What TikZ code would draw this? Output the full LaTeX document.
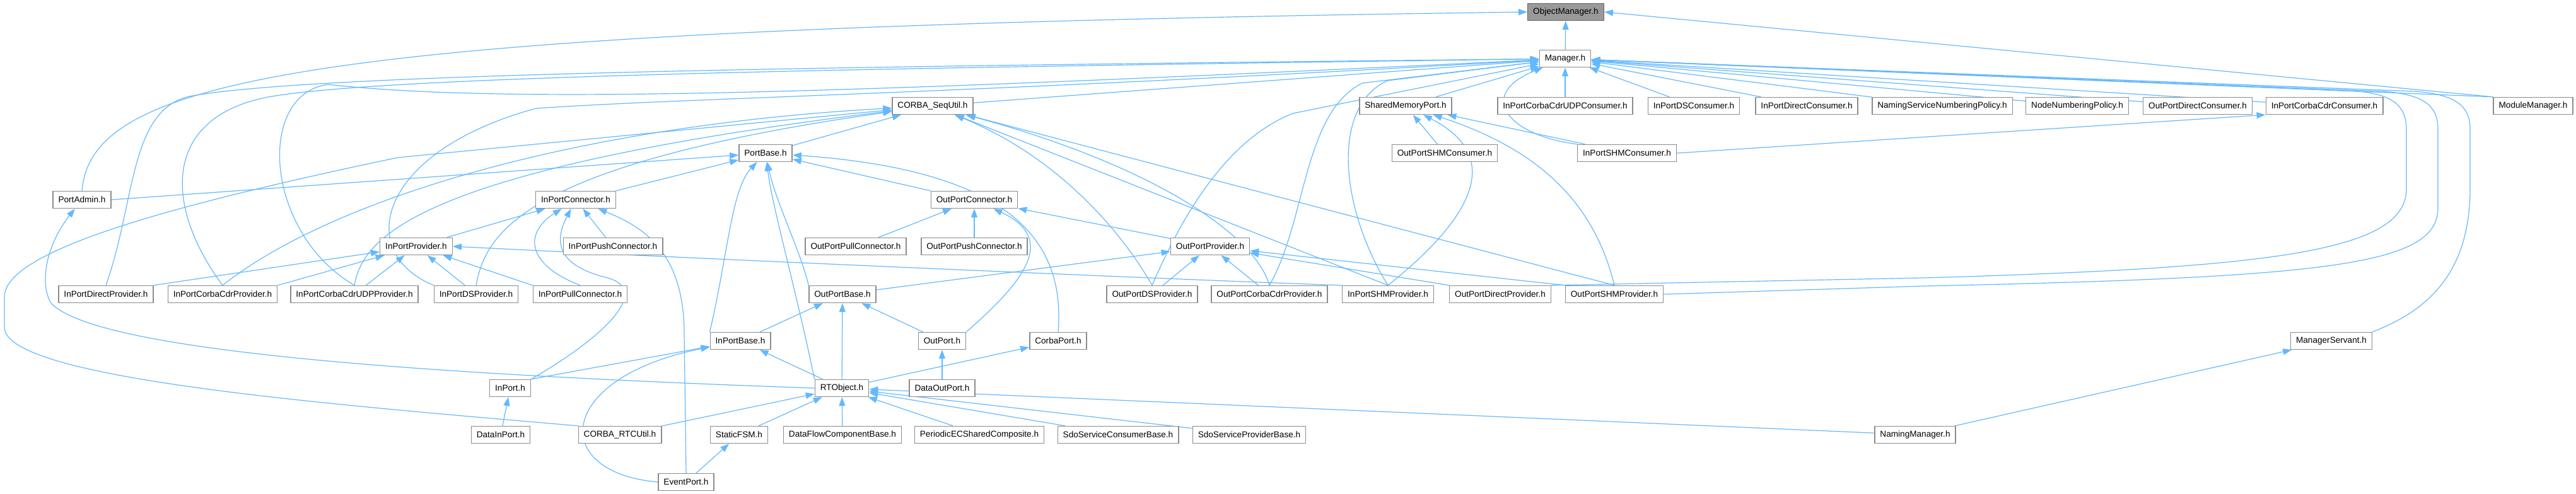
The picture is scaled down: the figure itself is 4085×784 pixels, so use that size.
\documentclass[tikz,border=0pt]{standalone}
\usepackage{fontspec}
\setmainfont{Liberation Sans}
\usetikzlibrary{arrows.meta}
\definecolor{edgeblue}{HTML}{63B8FF}
\definecolor{boxgray}{HTML}{8C8C8C}
\definecolor{objgray}{HTML}{999999}
\pgfdeclarelayer{bg}
\pgfsetlayers{bg,main}
\begin{document}
\begin{tikzpicture}[x=1pt, y=-1pt,
  every node/.style={rectangle, draw=boxgray, fill=white, line width=1.4pt, inner xsep=8.5pt, inner ysep=0pt, minimum height=27pt, font=\fontsize{13.6}{15}\selectfont},
  dep/.style={draw=edgeblue, line width=1.2pt, -{Triangle[length=14pt,width=10pt]}}]
  \useasboundingbox (0,0) rectangle (4085,784);
  % header files, placed row by row
  \node (objmgr) at (2483,19) [fill=objgray, draw=black!60] {ObjectManager.h};
  \node (mgr) at (2482,93) {Manager.h};
  \node (seq) at (1479,168) {CORBA\_SeqUtil.h};
  \node (shm) at (2229,168) {SharedMemoryPort.h};
  \node (udpcons) at (2482,168) {InPortCorbaCdrUDPConsumer.h};
  \node (dscons) at (2686,168) {InPortDSConsumer.h};
  \node (dircons) at (2865,168) {InPortDirectConsumer.h};
  \node (nsnp) at (3080,168) {NamingServiceNumberingPolicy.h};
  \node (nnp) at (3294,168) {NodeNumberingPolicy.h};
  \node (opdircons) at (3485,168) {OutPortDirectConsumer.h};
  \node (cdrcons) at (3686,168) {InPortCorbaCdrConsumer.h};
  \node (modmgr) at (4017,168) {ModuleManager.h};
  \node (portbase) at (1214,243) {PortBase.h};
  \node (oshmcons) at (2291,243) {OutPortSHMConsumer.h};
  \node (ishmcons) at (2580,243) {InPortSHMConsumer.h};
  \node (portadmin) at (130,317) {PortAdmin.h};
  \node (ipconn) at (913,317) {InPortConnector.h};
  \node (opconn) at (1545,317) {OutPortConnector.h};
  \node (ipprov) at (660,391) {InPortProvider.h};
  \node (ippush) at (972,391) {InPortPushConnector.h};
  \node (oppull) at (1357,391) {OutPortPullConnector.h};
  \node (oppush) at (1545,391) {OutPortPushConnector.h};
  \node (opprov) at (1919,391) {OutPortProvider.h};
  \node (ipdirprov) at (168,467) {InPortDirectProvider.h};
  \node (ipcdrprov) at (353,467) {InPortCorbaCdrProvider.h};
  \node (ipudpprov) at (562,467) {InPortCorbaCdrUDPProvider.h};
  \node (ipdsprov) at (755,467) {InPortDSProvider.h};
  \node (ippull) at (920,467) {InPortPullConnector.h};
  \node (opbase) at (1336,467) {OutPortBase.h};
  \node (opdsprov) at (1827,467) {OutPortDSProvider.h};
  \node (opcdrprov) at (2013,467) {OutPortCorbaCdrProvider.h};
  \node (ipshmprov) at (2201,467) {InPortSHMProvider.h};
  \node (opdirprov) at (2379,467) {OutPortDirectProvider.h};
  \node (opshmprov) at (2560,467) {OutPortSHMProvider.h};
  \node (ipbase) at (1174,541) {InPortBase.h};
  \node (outport) at (1494,541) {OutPort.h};
  \node (corbaport) at (1678,541) {CorbaPort.h};
  \node (mgrservant) at (3697,541) {ManagerServant.h};
  \node (inport) at (809,616) {InPort.h};
  \node (rtobj) at (1335,616) {RTObject.h};
  \node (dataout) at (1494,616) {DataOutPort.h};
  \node (datain) at (794,690) {DataInPort.h};
  \node (rtcutil) at (983,690) {CORBA\_RTCUtil.h};
  \node (staticfsm) at (1172,690) {StaticFSM.h};
  \node (dfcb) at (1336,690) {DataFlowComponentBase.h};
  \node (pecsc) at (1553,690) {PeriodicECSharedComposite.h};
  \node (sdocons) at (1773,690) {SdoServiceConsumerBase.h};
  \node (sdoprov) at (1981,690) {SdoServiceProviderBase.h};
  \node (namingmgr) at (3037,690) {NamingManager.h};
  \node (eventport) at (1088,765) {EventPort.h};

  % include edges, arrow points at the included file
  \begin{pgfonlayer}{bg}
  \draw[dep] (mgr) -- (objmgr);
  \draw[dep] (portadmin.north) .. controls (145,120) and (500,45) .. (objmgr.west);
  \draw[dep] (modmgr.north west) -- (objmgr.east);
  \draw[dep] (modmgr.north west) -- (mgr);
  \draw[dep] (shm) -- (mgr);
  \draw[dep] (udpcons) -- (mgr);
  \draw[dep] (dscons) -- (mgr);
  \draw[dep] (dircons) -- (mgr);
  \draw[dep] (nsnp) -- (mgr);
  \draw[dep] (nnp) -- (mgr);
  \draw[dep] (opdircons) -- (mgr);
  \draw[dep] (cdrcons) -- (mgr);
  \draw[dep] (seq) -- (mgr);
  \draw[dep] (ishmcons.north west) .. controls (2390,215) and (2340,150) .. (mgr);
  \draw[dep] (mgrservant.north east) .. controls (3830,500) and (3917,450) .. (3917,300) -- (3917,205) .. controls (3917,165) and (3890,150) .. (3830,145) -- (mgr);
  \draw[dep] (opshmprov.east) -- (3050,454) .. controls (3700,440) and (3866,420) .. (3866,330) -- (3866,205) .. controls (3866,165) and (3840,150) .. (3780,145) -- (mgr);
  \draw[dep] (opdirprov.north east) -- (3050,441) .. controls (3600,425) and (3816,400) .. (3816,300) -- (3816,205) .. controls (3816,165) and (3790,150) .. (3740,145) -- (mgr);
  \draw[dep] (opcdrprov.north) .. controls (2072,350) and (2066,180) .. (2160,132) -- (mgr);
  \draw[dep] (ipshmprov.north) .. controls (2125,330) and (2110,170) .. (2200,128) -- (mgr);
  \draw[dep] (opdsprov.north) .. controls (1880,330) and (1950,220) .. (2050,180) -- (mgr);
  \draw[dep] (ipdirprov.north) .. controls (215,320) and (205,175) .. (300,153) .. controls (500,115) and (1400,105) .. (mgr);
  \draw[dep] (ipcdrprov.north) .. controls (262,330) and (255,190) .. (420,155) .. controls (600,120) and (1400,108) .. (mgr);
  \draw[dep] (ipudpprov.north) .. controls (420,370) and (405,150) .. (520,134) .. controls (800,165) and (1300,150) .. (mgr);
  \draw[dep] (ipdsprov.north west) .. controls (560,400) and (600,240) .. (850,172) .. controls (1100,155) and (1500,150) .. (mgr);

  \draw[dep] (portbase) -- (seq);
  \draw[dep] (rtcutil.north west) .. controls (500,640) and (10,600) .. (7,520) -- (7,470) .. controls (10,400) and (250,330) .. (631,250) -- (seq);
  \draw[dep] (ipcdrprov.north) .. controls (520,320) and (900,200) .. (seq);
  \draw[dep] (ipudpprov.north) .. controls (575,380) and (650,270) .. (seq);
  \draw[dep] (ipdsprov.north) .. controls (770,370) and (830,260) .. (seq);
  \draw[dep] (opdsprov.north) .. controls (1780,370) and (1680,250) .. (seq);
  \draw[dep] (opcdrprov.north) .. controls (1990,370) and (1820,260) .. (seq);
  \draw[dep] (ipshmprov.north) -- (seq);
  \draw[dep] (opshmprov.north) -- (seq);

  \draw[dep] (portadmin.east) -- (portbase);
  \draw[dep] (ipconn.north east) -- (portbase);
  \draw[dep] (opconn.north west) -- (portbase);
  \draw[dep] (ipbase.north west) .. controls (1155,400) and (1160,300) .. (portbase);
  \draw[dep] (rtobj.north west) .. controls (1260,450) and (1225,330) .. (portbase);
  \draw[dep] (opbase.north west) .. controls (1270,400) and (1230,320) .. (portbase);
  \draw[dep] (corbaport.north) .. controls (1690,380) and (1600,270) .. (portbase);

  \draw[dep] (ipprov) -- (ipconn);
  \draw[dep] (ippush) -- (ipconn);
  \draw[dep] (ippull.north) .. controls (835,420) and (830,370) .. (ipconn);
  \draw[dep] (inport.north east) .. controls (950,540) and (1040,460) .. (960,440) .. controls (880,420) and (880,380) .. (ipconn);
  \draw[dep] (eventport.north) -- (1085,530) .. controls (1085,400) and (1020,360) .. (ipconn);

  \draw[dep] (ipdirprov.north east) -- (ipprov);
  \draw[dep] (ipcdrprov.north east) -- (ipprov);
  \draw[dep] (ipudpprov) -- (ipprov);
  \draw[dep] (ipdsprov) -- (ipprov);
  \draw[dep] (ippull.north west) -- (ipprov);
  \draw[dep] (ipshmprov.north west) .. controls (1900,445) and (1200,415) .. (ipprov.east);

  \draw[dep] (oppull) -- (opconn);
  \draw[dep] (oppush) -- (opconn);
  \draw[dep] (opprov) -- (opconn);
  \draw[dep] (outport.north east) .. controls (1620,450) and (1680,380) .. (opconn);

  \draw[dep] (opbase) -- (opprov);
  \draw[dep] (opdsprov) -- (opprov);
  \draw[dep] (opcdrprov) -- (opprov);
  \draw[dep] (opdirprov.north west) -- (opprov);
  \draw[dep] (opshmprov.north west) -- (opprov);

  \draw[dep] (ipbase) -- (opbase);
  \draw[dep] (rtobj) -- (opbase);
  \draw[dep] (outport) -- (opbase);

  \draw[dep] (rtobj) -- (ipbase);
  \draw[dep] (inport.north east) -- (ipbase);
  \draw[dep] (eventport.west) .. controls (870,750) and (880,600) .. (ipbase);

  \draw[dep] (rtobj) -- (corbaport);
  \draw[dep] (rtobj.west) .. controls (700,595) and (150,560) .. (80,480) .. controls (60,440) and (80,380) .. (portadmin);
  \draw[dep] (staticfsm) -- (rtobj);
  \draw[dep] (dfcb) -- (rtobj);
  \draw[dep] (pecsc) -- (rtobj);
  \draw[dep] (sdocons) -- (rtobj);
  \draw[dep] (sdoprov) -- (rtobj);
  \draw[dep] (namingmgr) -- (rtobj);
  \draw[dep] (rtcutil) -- (rtobj);

  \draw[dep] (dataout) -- (outport);
  \draw[dep] (datain) -- (inport);
  \draw[dep] (eventport) -- (staticfsm);
  \draw[dep] (namingmgr) -- (mgrservant);
  \draw[dep] (oshmcons) -- (shm);
  \draw[dep] (ishmcons) -- (shm);
  \draw[dep] (ipshmprov.north) .. controls (2330,350) and (2390,250) .. (shm);
  \draw[dep] (opshmprov.north) .. controls (2530,330) and (2450,240) .. (shm);
  \draw[dep] (ishmcons.east) -- (cdrcons.south west);
  \end{pgfonlayer}
\end{tikzpicture}
\end{document}
